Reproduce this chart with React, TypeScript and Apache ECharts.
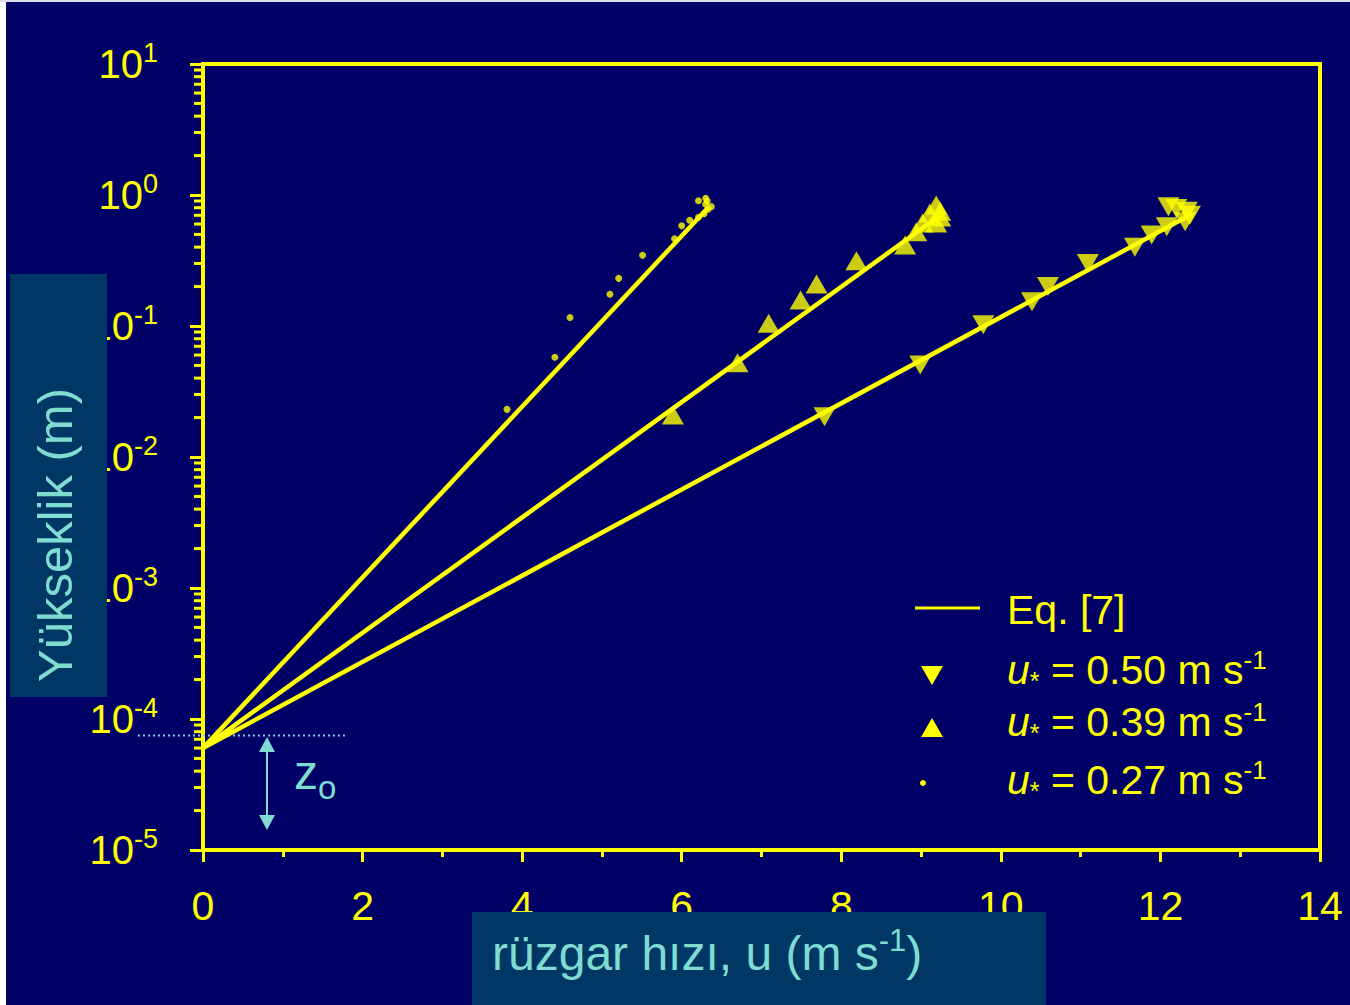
import React, { useEffect, useRef } from 'react';
import * as echarts from 'echarts';

// ---- data ----
const xTicks = [0, 2, 4, 6, 8, 10, 12, 14];
const yDecades = [-5, -4, -3, -2, -1, 0, 1];

// Eq. [7] log-law lines (u, z)
const eqLine027 = [[0, 6e-5], [6.33, 0.8]];
const eqLine039 = [[0, 6e-5], [9.24, 0.7]];
const eqLine050 = [[0, 6e-5], [12.4, 0.72]];

// u* = 0.27 m/s (dots)
const u027 = [
  [3.81, 0.0231], [4.41, 0.0577], [4.6, 0.116], [5.1, 0.175], [5.21, 0.231],
  [5.51, 0.347], [5.91, 0.464], [6.0, 0.583], [6.1, 0.641], [6.21, 0.676],
  [6.21, 0.905], [6.3, 0.944], [6.28, 0.72], [6.3, 0.85], [6.33, 0.78],
  [6.37, 0.815], [6.32, 0.9],
];
// u* = 0.39 m/s (up triangles)
const u039 = [
  [5.89, 0.0209], [6.7, 0.0525], [7.09, 0.105], [7.49, 0.158], [7.69, 0.209],
  [8.19, 0.315], [8.8, 0.415], [8.94, 0.525], [9.02, 0.61], [9.11, 0.73],
  [9.19, 0.84], [9.24, 0.68], [9.19, 0.61], [9.24, 0.75],
];
// u* = 0.50 m/s (down triangles)
const u050 = [
  [7.79, 0.0203], [8.99, 0.0504], [9.78, 0.102], [10.39, 0.153], [10.59, 0.2],
  [11.09, 0.3], [11.68, 0.4], [11.89, 0.495], [12.08, 0.573], [12.31, 0.625],
  [12.1, 0.815], [12.2, 0.79], [12.33, 0.75], [12.37, 0.7],
];

const legendLabels = ['Eq. [7]', '0.50', '0.39', '0.27'];
const yTitle = 'Yükseklik (m)';
const xTitle = 'rüzgar hızı, u (m s';

const Y = '#ffff00';
const BG = '#000066';
const BOX = '#003764';
const AQUA = '#7fdcd0';
const F = "'Liberation Sans', Arial, Helvetica, sans-serif";

const yMinorTicks: number[][] = [];
for (let i = 0; i < yDecades.length - 1; i++) {
  for (let m = 2; m <= 9; m++) yMinorTicks.push([0, m * Math.pow(10, yDecades[i])]);
}

export default function App() {
  const ref = useRef<HTMLDivElement>(null);
  useEffect(() => {
    if (!ref.current) return;
    const chart = echarts.init(ref.current, undefined, { renderer: 'svg' });
    const legendRich = {
      i: { fontStyle: 'italic', fontSize: 41, lineHeight: 46, fill: Y, color: Y, fontFamily: F },
      st: { fontSize: 25, lineHeight: 25, verticalAlign: 'bottom', fill: Y, color: Y, fontFamily: F },
      n: { fontSize: 41, lineHeight: 46, fill: Y, color: Y, fontFamily: F },
      sup: { fontSize: 26, lineHeight: 26, verticalAlign: 'top', fill: Y, color: Y, fontFamily: F },
    };
    const legendText = (v: string) => `{i|u}{st|*}{n| = ${v} m s}{sup|-1}`;
    const option: any = {
      animation: false,
      backgroundColor: BG,
      grid: {
        left: 203, right: 30, top: 64, bottom: 155,
        show: true, borderColor: Y, borderWidth: 4, backgroundColor: 'transparent',
        containLabel: false, outerBoundsMode: 'none',
      },
      xAxis: {
        type: 'value', min: xTicks[0], max: xTicks[xTicks.length - 1], interval: 2,
        axisLine: { show: true, lineStyle: { color: Y, width: 4 } },
        axisTick: { show: true, length: 12, lineStyle: { color: Y, width: 3 } },
        minorTick: { show: true, splitNumber: 2, length: 7, lineStyle: { color: Y, width: 3 } },
        splitLine: { show: false },
        axisLabel: { color: Y, fontSize: 41, fontFamily: F, margin: 35 },
      },
      yAxis: {
        type: 'log', logBase: 10, min: Math.pow(10, yDecades[0]), max: Math.pow(10, yDecades[yDecades.length - 1]),
        splitNumber: 6,
        axisLine: { show: true, lineStyle: { color: Y, width: 4 } },
        axisTick: { show: true, length: 13, lineStyle: { color: Y, width: 3 } },
        minorTick: { show: false },
        splitLine: { show: false },
        axisLabel: {
          margin: 45,
          formatter: (v: number) => `{b|10}{s|${Math.round(Math.log10(v))}}`,
          rich: {
            b: { fontSize: 40, lineHeight: 50, color: Y, fontFamily: F },
            s: { fontSize: 27, lineHeight: 27, verticalAlign: 'top', color: Y, fontFamily: F },
          },
        },
      },
      series: [
        {
          type: 'custom', name: 'minor', silent: true, clip: false, z: 3,
          data: yMinorTicks,
          renderItem: (params: any, api: any) => {
            const p = api.coord([api.value(0), api.value(1)]);
            return { type: 'line', shape: { x1: p[0] - 9, y1: p[1], x2: p[0], y2: p[1] }, style: { stroke: Y, lineWidth: 3 } };
          },
        },
        ...[eqLine027, eqLine039, eqLine050].map((d) => ({
          type: 'line', name: legendLabels[0], data: d, showSymbol: false, symbol: 'none',
          lineStyle: { color: Y, width: 4.5 }, z: 4,
        })),
        {
          type: 'scatter', name: 'u050', data: u050, symbol: 'triangle', symbolRotate: 180,
          symbolSize: [22, 19], itemStyle: { color: Y }, z: 5,
        },
        {
          type: 'scatter', name: 'u039', data: u039, symbol: 'triangle',
          symbolSize: [22, 19], itemStyle: { color: Y }, z: 5,
        },
        {
          type: 'scatter', name: 'u027', data: u027, symbol: 'circle',
          symbolSize: 7, itemStyle: { color: Y }, z: 5,
        },
      ],
      graphic: [
        { type: 'rect', z: 200, shape: { x: 0, y: 0, width: 6, height: 1005 }, style: { fill: '#ffffff' } },
        { type: 'rect', z: 200, shape: { x: 0, y: 0, width: 1350, height: 2 }, style: { fill: '#dcdcec' } },
        // y title box
        { type: 'rect', z: 100, shape: { x: 10, y: 274, width: 97, height: 423 }, style: { fill: BOX } },
        {
          type: 'text', z: 101, x: 55, y: 535, rotation: Math.PI / 2,
          style: { text: yTitle, fill: AQUA, fontSize: 49, fontFamily: F, align: 'center', verticalAlign: 'middle' },
        },
        // x title box
        { type: 'rect', z: 100, shape: { x: 472, y: 912, width: 574, height: 93 }, style: { fill: BOX } },
        {
          type: 'text', z: 101, x: 492, y: 953,
          style: {
            text: `{n|${xTitle}}{sup|-1}{n|)}`, align: 'left', verticalAlign: 'middle',
            rich: {
              n: { fontSize: 48, lineHeight: 56, fill: AQUA, color: AQUA, fontFamily: F },
              sup: { fontSize: 31, lineHeight: 31, verticalAlign: 'top', fill: AQUA, color: AQUA, fontFamily: F },
            },
          },
        },
        // z0 annotation
        { type: 'line', z: 1, shape: { x1: 138, y1: 735.5, x2: 347, y2: 735.5 }, style: { stroke: '#88c8e8', lineWidth: 2, lineDash: [2, 3] } },
        { type: 'line', z: 101, shape: { x1: 267, y1: 748, x2: 267, y2: 820 }, style: { stroke: AQUA, lineWidth: 2 } },
        { type: 'polygon', z: 101, shape: { points: [[259, 752], [275, 752], [267, 737]] }, style: { fill: AQUA } },
        { type: 'polygon', z: 101, shape: { points: [[259, 815], [275, 815], [267, 830]] }, style: { fill: AQUA } },
        {
          type: 'text', z: 101, x: 294, y: 772,
          style: {
            text: '{n|z}{sub|o}', align: 'left', verticalAlign: 'middle',
            rich: {
              n: { fontSize: 48, lineHeight: 64, fill: AQUA, color: AQUA, fontFamily: F },
              sub: { fontSize: 33, lineHeight: 33, verticalAlign: 'bottom', fill: AQUA, color: AQUA, fontFamily: F },
            },
          },
        },
        // legend
        { type: 'line', z: 101, shape: { x1: 915, y1: 608, x2: 980, y2: 608 }, style: { stroke: Y, lineWidth: 3 } },
        { type: 'text', z: 101, x: 1007, y: 610, style: { text: legendLabels[0], fill: Y, fontSize: 41, fontFamily: F, align: 'left', verticalAlign: 'middle' } },
        { type: 'polygon', z: 101, shape: { points: [[921, 666], [943, 666], [932, 685]] }, style: { fill: Y } },
        { type: 'text', z: 101, x: 1007, y: 670, style: { text: legendText(legendLabels[1]), rich: legendRich, fill: Y, align: 'left', verticalAlign: 'middle' } },
        { type: 'polygon', z: 101, shape: { points: [[921, 737], [943, 737], [932, 718]] }, style: { fill: Y } },
        { type: 'text', z: 101, x: 1007, y: 722, style: { text: legendText(legendLabels[2]), rich: legendRich, fill: Y, align: 'left', verticalAlign: 'middle' } },
        { type: 'circle', z: 101, shape: { cx: 923, cy: 783, r: 3 }, style: { fill: Y } },
        { type: 'text', z: 101, x: 1007, y: 780, style: { text: legendText(legendLabels[3]), rich: legendRich, fill: Y, align: 'left', verticalAlign: 'middle' } },
      ],
    };
    chart.setOption(option);
    return () => chart.dispose();
  }, []);
  return <div ref={ref} style={{ position: 'absolute', left: 0, top: 0, width: 1350, height: 1005 }} />;
}
